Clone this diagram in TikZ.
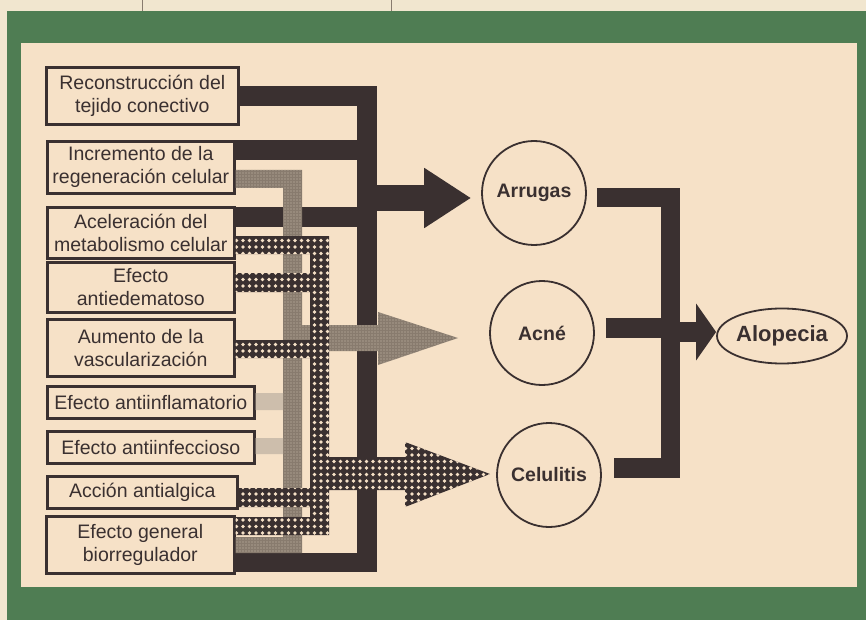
\documentclass[tikz,border=0pt]{standalone}
\usepackage{fontspec}
\setmainfont{Liberation Sans}
\usetikzlibrary{arrows.meta,shapes.geometric,patterns.meta}

\definecolor{paper}{HTML}{F1E6CF}
\definecolor{panel}{HTML}{F6E1C7}
\definecolor{grn}{HTML}{4F7D53}
\definecolor{ink}{HTML}{3A3030}
\definecolor{grayink}{HTML}{887B6E}
\definecolor{lightgray}{HTML}{CDBEAC}

\tikzset{
  cause/.style={draw=ink, line width=2.6pt, inner sep=0pt, align=center, anchor=north west,
    text=ink, font=\fontsize{19.5}{23}\selectfont},
  effect/.style={circle, draw=ink, line width=1.8pt, minimum size=104pt, inner sep=0pt,
    text=ink, font=\bfseries\fontsize{19.5}{23}\selectfont},
  bar/.style={draw=ink, line width=19.5pt},
  graybar/.style={fill=grayink, postaction={pattern={Dots[distance=3pt,radius=0.7pt]}, pattern color=lightgray}}
}

% route of the dotted lines (to Celulitis)
\newcommand{\dotroute}{(met.east |- 0,236) rectangle (329,254)
  (310,236) rectangle (329,535)
  (ede.east |- 0,273) rectangle (310,292)
  (vas.east |- 0,340) rectangle (310,358)
  (alg.east |- 0,488) rectangle (310,507)
  (bio.east |- 0,517) rectangle (329,535)
  (329,457) rectangle (405,490)
  (405,442) -- (405,507) -- (490,474) -- cycle}

\begin{document}
\begin{tikzpicture}[x=1pt,y=-1pt]
                    \useasboundingbox (0,0) rectangle (866,620);
                    % page and green frame
                    \fill[paper] (0,0) rectangle (866,620);
                    \draw[grayink, line width=1pt] (142,0) -- (142,11) (391,0) -- (391,11);
                    \fill[grn] (7,11) rectangle (866,620);
                    \fill[panel] (21,43) rectangle (857,587);

                    % causes
                    \node[cause, minimum width=192pt, minimum height=57pt] (rec) at (45,66) {Reconstrucción del\\tejido conectivo};
                    \node[cause, minimum width=187pt, minimum height=52pt] (reg) at (46,140) {Incremento de la\\regeneración celular};
                    \node[cause, minimum width=187pt, minimum height=51pt] (met) at (46,206) {Aceleración del\\metabolismo celular};
                    \node[cause, minimum width=187pt, minimum height=50pt] (ede) at (46,261) {Efecto\\antiedematoso};
                    \node[cause, minimum width=187pt, minimum height=57pt] (vas) at (46,318) {Aumento de la\\vascularización};
                    \node[cause, minimum width=207pt, minimum height=32pt] (inf) at (46,385) {Efecto antiinflamatorio};
                    \node[cause, minimum width=207pt, minimum height=32pt] (inc) at (46,430) {Efecto antiinfeccioso};
                    \node[cause, minimum width=190pt, minimum height=32pt] (alg) at (46,475) {Acción antialgica};
                    \node[cause, minimum width=188pt, minimum height=57pt] (bio) at (45,515) {Efecto general\\biorregulador};

                    % effects
                    \node[effect] (arr) at (534,193) {Arrugas};
                    \node[effect] (acn) at (542,333) {Acné};
                    \node[effect] (cel) at (549,475) {Celulitis};
                    \node[ellipse, draw=ink, line width=1.8pt, minimum width=130pt, minimum height=55pt, inner sep=0pt,
                      text=ink, font=\bfseries\fontsize{22}{26}\selectfont] (alo) at (782,336) {Alopecia};

                    \coordinate (spL) at (367,0);
                    \coordinate (spR) at (670.5,0);

                    % black lines -> Arrugas
                    \draw[bar] (rec.east) -- (rec.east -| spL) -- (spL |- 0,562.5) -- (bio.east |- 0,562.5);
                    \draw[bar] (reg.east |- 0,150) -- (spL |- 0,150);
                    \draw[bar] (met.east |- 0,217) -- (spL |- 0,217);
                    \draw[bar, line width=26pt, -{Triangle[length=47pt,width=57pt]}, shorten >=10pt] (spL |- 0,198) -- (arr.west |- 0,198);

                    % gray lines -> Acne
                    \path[graybar] (reg.east |- 0,170) rectangle (302,188)
                      (283,170) rectangle (302,553)
                      (bio.east |- 0,537) rectangle (302,553)
                      (302,325) rectangle (379,351);
                    \path[graybar] (378,312) -- (458,338) -- (378,365) -- cycle;
                    \fill[lightgray] (inf.east |- 0,393) rectangle (283,410)
                      (inc.east |- 0,438) rectangle (283,454);

                    % dotted lines -> Celulitis
                    \fill[ink] \dotroute;
                    \begin{scope}
                      \clip \dotroute;
                      \foreach \x in {230,236.5,...,494}
                        \foreach \y in {234,240.5,...,540}
                          \fill[panel] (\x,\y) circle (1.8);
                    \end{scope}

                    % effects -> Alopecia
                    \draw[bar] ([xshift=10pt]arr.east |- 0,197.5) -- (spR |- 0,197.5) -- (spR |- 0,468) -- ([xshift=12pt]cel.east |- 0,468);
                    \draw[bar] ([xshift=11pt]acn.east |- 0,328) -- (spR |- 0,328);
                    \draw[bar, -{Triangle[length=20pt,width=56pt]}] (spR |- 0,332) -- (alo.west |- 0,332);
                    % \draw[bar] (acn.east) -- (alo.west);

                \end{tikzpicture}
\end{document}
